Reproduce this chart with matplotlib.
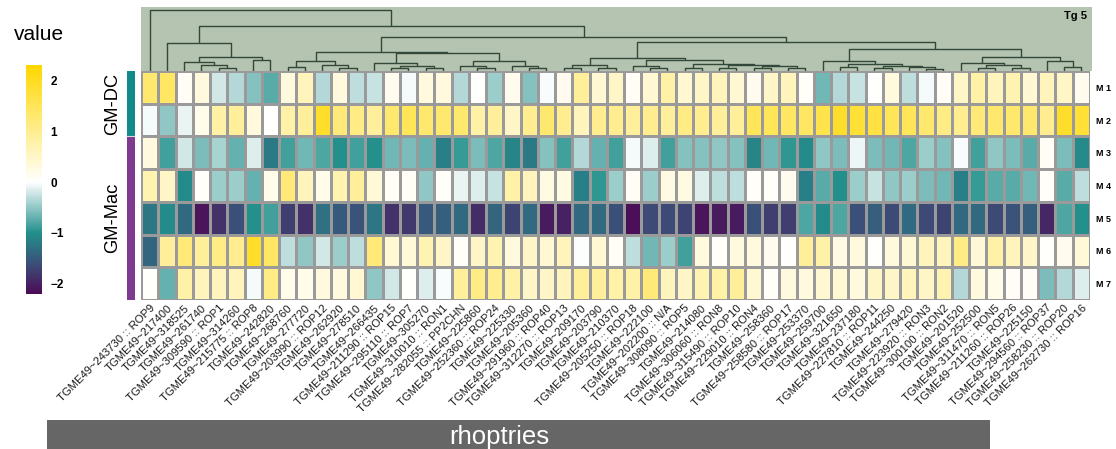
import numpy as np
import matplotlib
matplotlib.use("Agg")
import matplotlib.pyplot as plt
from matplotlib.colors import LinearSegmentedColormap, ListedColormap, Normalize
from matplotlib.cm import ScalarMappable

plt.rcParams['font.family'] = ['Liberation Sans', 'DejaVu Sans']

W, H = 1116, 449

genes = [
    "TGME49~243730 :: ROP9", "TGME49~217400", "TGME49~318525", "TGME49~261740",
    "TGME49~309590 :: ROP1", "TGME49~314260", "TGME49~215775 :: ROP8",
    "TGME49~242820", "TGME49~268760", "TGME49~277720",
    "TGME49~203990 :: ROP12", "TGME49~262920", "TGME49~278510", "TGME49~266435",
    "TGME49~211290 :: ROP15", "TGME49~295110 :: ROP7", "TGME49~305270",
    "TGME49~310010 :: RON1", "TGME49~282055 :: PP2CHN", "TGME49~225860",
    "TGME49~252360 :: ROP24", "TGME49~225330", "TGME49~205360",
    "TGME49~291960 :: ROP40", "TGME49~312270 :: ROP13", "TGME49~209170",
    "TGME49~203790", "TGME49~210370", "TGME49~205250 :: ROP18", "TGME49~222100",
    "TGME49~202200 :: N/A", "TGME49~308090 :: ROP5", "TGME49~214080",
    "TGME49~306060 :: RON8", "TGME49~315490 :: ROP10", "TGME49~229010 :: RON4",
    "TGME49~258360", "TGME49~258580 :: ROP17", "TGME49~253370", "TGME49~259700",
    "TGME49~321650", "TGME49~237180", "TGME49~227810 :: ROP11", "TGME49~244250",
    "TGME49~279420", "TGME49~223920 :: RON3", "TGME49~300100 :: RON2",
    "TGME49~201520", "TGME49~252500", "TGME49~311470 :: RON5",
    "TGME49~211260 :: ROP26", "TGME49~225150", "TGME49~294560 :: ROP37",
    "TGME49~258230 :: ROP20", "TGME49~262730 :: ROP16",
]

modules = ["M 1", "M 2", "M 3", "M 4", "M 5", "M 6", "M 7"]
module_group = ["GM-DC", "GM-DC", "GM-Mac", "GM-Mac", "GM-Mac", "GM-Mac", "GM-Mac"]

m1 = [1.3, 1.4, 0.1, 0.3, -0.2, -0.35, -0.55, -0.75, 0.3, 0.6, -0.35, 0.3, -0.3, -0.25,
      0.15, -0.05, 0.3, 0.3, -0.35, 0.0, -0.45, 0.15, -0.55, -0.03, 0.15, 0.9, 0.4, 0.5,
      0.1, 0.4, 0.8, 0.4, 0.5, 0.6, 0.4, 0.15, 0.5, 0.6, 0.05, -0.65, -0.35, -0.25, 0.0,
      0.3, -0.3, -0.05, 0.1, 0.5, 0.8, 0.6, 0.7, 0.4, 0.6, 0.5, 0.15]
m2 = [-0.05, -0.5, -0.1, 0.2, 0.8, 0.9, 0.3, 0.0, 0.8, 0.9, 1.9, 1.2, 1.1, 0.9, 1.3, 1.5,
      1.3, 1.3, 1.3, 0.8, 0.9, 0.5, 1.0, 1.3, 1.0, 0.6, 1.0, 1.0, 0.9, 1.0, 0.9, 1.1, 1.0,
      0.9, 0.9, 1.5, 1.5, 1.4, 1.4, 1.6, 1.9, 1.8, 1.7, 1.5, 1.5, 1.3, 1.1, 1.0, 1.2, 1.3,
      1.3, 1.3, 1.0, 1.9, 1.8]
m3 = [0.3, -0.85, -0.2, -0.6, -0.4, -0.7, -0.15, -1.2, -0.85, -0.65, -0.8, -1.0, -0.85,
      -1.0, -0.65, -0.6, -0.7, -1.15, -0.9, -0.6, -0.8, -1.1, -1.2, -0.55, -0.85, -0.35,
      -0.7, -0.85, -0.05, -0.15, -0.85, -0.55, -0.55, -0.5, -0.55, -1.1, -0.65, -0.95,
      -1.05, -0.5, -0.6, -0.08, -0.6, -0.65, -0.8, -0.45, -0.55, -0.03, -0.85, -0.5,
      -0.6, -0.75, 0.1, -0.6, -1.05]
m4 = [0.7, 0.5, -1.05, 0.05, -0.45, -0.45, -0.7, 0.2, 1.2, 0.6, 0.2, 0.7, 0.9, 0.35, 0.1,
      0.1, -0.5, 0.05, -0.1, -0.15, -0.25, 0.8, 0.6, 0.25, 0.25, -1.15, -0.95, -0.45, 0.1,
      -0.45, 0.25, 0.25, -0.15, -0.3, -0.3, 0.05, 0.05, 0.15, -1.15, -0.75, -1.0, -0.45,
      -0.25, -0.5, -0.45, -0.6, -0.65, -1.15, -0.9, -0.75, -0.75, -0.65, 0.05, -0.75, -0.3]
m5 = [-1.25, -1.05, -1.35, -2.1, -1.85, -1.6, -1.0, -0.85, -1.75, -1.85, -1.3, -1.5,
      -1.55, -1.25, -1.85, -1.8, -1.5, -1.45, -1.35, -1.9, -1.4, -1.7, -1.35, -2.05, -2.0,
      -1.35, -1.35, -1.6, -2.15, -1.65, -1.65, -1.7, -2.1, -2.05, -2.05, -1.6, -1.75,
      -1.75, -0.8, -1.05, -0.8, -1.6, -1.45, -1.65, -1.35, -1.65, -1.7, -1.35, -1.35,
      -1.65, -1.55, -1.45, -1.95, -0.8, -1.0]
m6 = [-1.4, 0.9, 1.2, 0.9, 1.1, 1.0, 1.9, 1.4, -0.3, -0.5, -0.2, -0.45, -0.3, 1.2, 0.4,
      0.35, 0.7, 0.5, 0.05, 0.5, 0.7, 0.3, 0.5, 0.4, 0.6, -0.02, 0.4, 0.1, -0.3, -0.65,
      -0.45, -0.85, 0.3, 0.05, 0.3, 0.3, 0.15, 0.02, 0.9, 0.8, 0.25, 0.3, 0.02, 0.3, 0.4,
      0.6, 0.6, 1.1, 0.35, 0.8, 0.6, 0.5, 0.02, 0.15, 0.35]
m7 = [0.02, -0.7, 0.8, 0.6, 0.6, 0.6, -0.05, 1.1, 0.2, 0.2, 0.3, 0.3, 0.4, -0.5, -0.2,
      0.02, -0.15, -0.03, 0.9, 1.1, 1.0, 0.8, 0.5, 0.5, 0.6, 0.9, 0.9, 0.8, 0.8, 1.2, 0.6,
      0.5, 0.7, 0.8, 0.9, 0.4, 0.05, 0.3, 0.3, 0.4, 0.4, 0.3, 0.5, 0.5, 0.6, 0.5, 0.7,
      -0.35, 0.3, 0.2, 0.1, 0.1, -0.6, -0.35, -0.15]

# column dendrogram: (height, left, right), leaves are 1-based column numbers
col_tree = (61, 1,
    (45,
        (28, 2, (14, (9, 3, (6, 4, (3, 5, 6))), (11, 7, 8))),
        (34,
            (19,
                (10, (4, 9, 10), (6, 11, (3, 12, 13))),
                (18,
                    (8, 14, (5, (3, 15, 16), (3, 17, 18))),
                    (10, (5, 19, (3, 20, 21)), (5, 22, (3, 23, 24))))),
            (29,
                (13,
                    (6, (3, 25, 26), (3, 27, 28)),
                    (11, (5, 29, (3, 30, 31)),
                         (7, (3, 32, 33), (6, (3, 34, 35), (5, (3, 36, 37), (3, 38, 39)))))),
                (22,
                    (10, 40, (7, (4, 41, 42), (5, (3, 43, 44), (4, 45, (2, 46, 47))))),
                    (14,
                        (8, 48, (6, (3, 49, 50), (3, 51, 52))),
                        (10, 53, (4, 54, 55))))))))

values = np.array([m1, m2, m3, m4, m5, m6, m7])
n_rows, n_cols = values.shape

vmin, vmax = -2.2, 2.3
stops = [(-2.2, '#4c0b56'), (-1.6, '#3b5078'), (-1.0, '#23908c'),
         (0.0, '#ffffff'), (2.3, '#ffd700')]
cmap = LinearSegmentedColormap.from_list(
    'value', [((v - vmin) / (vmax - vmin), c) for v, c in stops])
norm = Normalize(vmin, vmax)

fig = plt.figure(figsize=(W / 100, H / 100), dpi=100)


def px_axes(x0, y0, x1, y1):
    return fig.add_axes([x0 / W, 1 - y1 / H, (x1 - x0) / W, (y1 - y0) / H])


# heatmap
ax = px_axes(141, 71, 1090, 300)
ax.pcolormesh(np.arange(n_cols + 1), np.arange(n_rows + 1), values, cmap=cmap,
              norm=norm, edgecolors='#9a9a9a', linewidth=0.9)
ax.set_xlim(0, n_cols)
ax.set_ylim(n_rows, 0)
for s in ax.spines.values():
    s.set_visible(False)
ax.yaxis.tick_right()
ax.set_yticks(np.arange(n_rows) + 0.5)
ax.set_yticklabels(modules, fontsize=6.5, fontweight='bold')
ax.set_xticks(np.arange(n_cols) + 0.5)
ax.set_xticklabels(genes, rotation=45, ha='right', va='top',
                   rotation_mode='anchor', fontsize=8.1, color='#1a1a1a')
ax.tick_params(length=0, pad=2)
ax.tick_params(axis='y', pad=4)

# dendrogram
axd = px_axes(141, 7, 1092, 71)
axd.set_facecolor('#b5c4b1')
axd.set_xlim(0, n_cols * (1092 - 141) / (1090 - 141))
axd.set_ylim(0, 64)
axd.set_xticks([])
axd.set_yticks([])
for s in axd.spines.values():
    s.set_visible(False)


def draw_tree(node):
    if isinstance(node, int):
        return node - 0.5, 0.0
    h, left, right = node
    xl, hl = draw_tree(left)
    xr, hr = draw_tree(right)
    axd.plot([xl, xl, xr, xr], [hl, h, h, hr], color='#34483a', lw=1.0,
             solid_capstyle='butt')
    return (xl + xr) / 2, h


draw_tree(col_tree)
axd.text(0.995, 0.86, "Tg 5", transform=axd.transAxes, ha='right', va='center',
         fontsize=8, fontweight='bold')

# row annotation bar
axa = px_axes(127, 71, 135, 300)
groups = sorted(set(module_group), key=module_group.index)
codes = np.array([[groups.index(g)] for g in module_group])
axa.pcolormesh(codes, cmap=ListedColormap(['#128a8a', '#7d3a8e']))
axa.set_ylim(n_rows, 0)
axa.set_xlim(0, 1)
axa.axis('off')
for k in range(1, n_rows):
    if module_group[k] != module_group[k - 1]:
        axa.axhline(k, color='#d8d8d8', lw=0.8)
for g in groups:
    rows = [i for i, v in enumerate(module_group) if v == g]
    yc = 71 + (np.mean(rows) + 0.5) * (300 - 71) / n_rows
    fig.text(113 / W, 1 - yc / H, g, rotation=90, ha='center', va='center',
             fontsize=13.2)

# colour legend
cax = px_axes(26, 65, 42, 294)
cb = fig.colorbar(ScalarMappable(norm=norm, cmap=cmap), cax=cax)
cb.outline.set_visible(False)
cb.set_ticks([-2, -1, 0, 1, 2])
cb.set_ticklabels(['\u22122', '\u22121', '0', '1', '2'])
cax.tick_params(length=0, pad=6, labelsize=8.5)
for t in cax.get_yticklabels():
    t.set_fontweight('bold')
fig.text(14 / W, 1 - 35 / H, "value", ha='left', va='center', fontsize=15)

# bottom annotation
axb = px_axes(47, 420, 990, 449)
axb.set_facecolor('#666666')
axb.set_xticks([])
axb.set_yticks([])
for s in axb.spines.values():
    s.set_visible(False)
axb.text((499 - 47) / (990 - 47), 0.42, "rhoptries", transform=axb.transAxes,
         ha='center', va='center', color='white', fontsize=18.5)

fig.savefig("out.png", dpi=100)
